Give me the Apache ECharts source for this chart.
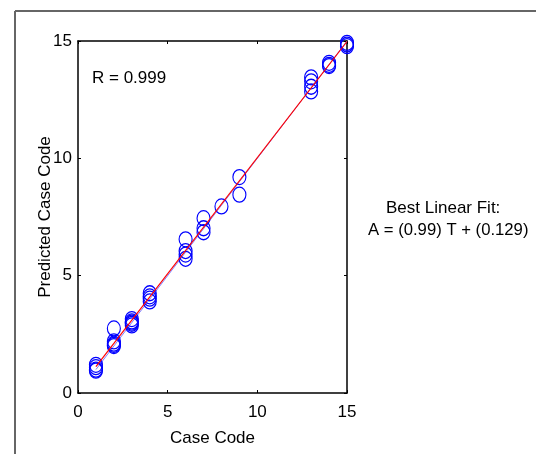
<!DOCTYPE html>
<html>
<head>
<meta charset="utf-8">
<script src="https://cdn.jsdelivr.net/npm/echarts@6/dist/echarts.min.js"></script>
<style>html,body{margin:0;padding:0;background:#fff;}#c{width:536px;height:454px;}</style>
</head>
<body>
<div id="c"></div>
<script>
// Data
var targets = [1,1,1,1, 2,2,2,2,2, 3,3,3,3,3, 4,4,4,4, 6,6,6,6, 7,7,7, 8, 9,9, 13,13,13,13, 14,14,14, 15,15,15];
var outputs = [1.2,1.1,1.0,0.95, 2.75,2.2,2.1,2.05,2.0, 3.15,3.05,3.0,2.95,2.88, 4.25,4.12,4.02,3.9, 6.55,6.05,5.9,5.72, 7.45,7.02,6.85, 7.95, 9.2,8.45, 13.45,13.28,13.05,12.85, 14.07,13.98,13.93, 14.92,14.85,14.78];
var fitSlope = 0.99;
var fitIntercept = 0.129;
var fitRange = [1, 15];
var xTicks = [0, 5, 10, 15];
var yTicks = [0, 5, 10, 15];
var rText = 'R = 0.999';
var fitLabel = ['Best Linear Fit:', 'A = (0.99) T + (0.129)'];

var scatterData = targets.map(function(t, i){ return [t, outputs[i]]; });
var fitLine = fitRange.map(function(t){ return [t, fitSlope * t + fitIntercept]; });
var identLine = fitRange.map(function(t){ return [t, t]; });

var font = 'Liberation Sans, Arial, sans-serif';
var chart = echarts.init(document.getElementById('c'));
var axisCommon = {
  type: 'value', min: xTicks[0], max: xTicks[xTicks.length - 1], interval: 5,
  splitLine: {show: false},
  axisLine: {show: true, onZero: false, lineStyle: {color: '#000', width: 1.5}},
  axisTick: {show: true, inside: true, length: 3, lineStyle: {color: '#000'}}
};
chart.setOption({
  animation: false,
  backgroundColor: '#fff',
  grid: {left: 78, top: 41, width: 269, height: 352},
  xAxis: [
    Object.assign({}, axisCommon, {
      position: 'bottom', name: 'Case Code', nameLocation: 'middle', nameGap: 37,
      nameTextStyle: {fontFamily: font, fontSize: 17, color: '#000'},
      axisLabel: {fontFamily: font, fontSize: 17, color: '#000', margin: 11}
    }),
    Object.assign({}, axisCommon, {position: 'top', axisLabel: {show: false}})
  ],
  yAxis: [
    Object.assign({}, axisCommon, {
      min: yTicks[0], max: yTicks[yTicks.length - 1],
      position: 'left', name: 'Predicted Case Code', nameLocation: 'middle', nameGap: 24,
      nameMoveOverlap: false,
      nameTextStyle: {fontFamily: font, fontSize: 17, color: '#000'},
      axisLabel: {fontFamily: font, fontSize: 17, color: '#000', margin: 6}
    }),
    Object.assign({}, axisCommon, {position: 'right', axisLabel: {show: false}})
  ],
  series: [
    {
      type: 'line', data: identLine, symbol: 'none', silent: true,
      lineStyle: {color: '#8080ff', width: 1}, z: 2
    },
    {
      type: 'scatter', data: scatterData, symbol: 'circle', symbolSize: [13, 15],
      itemStyle: {color: 'rgba(0,0,0,0)', borderColor: '#0000ff', borderWidth: 1.2, opacity: 1}, z: 3
    },
    {
      type: 'line', data: fitLine, symbol: 'none', silent: true,
      lineStyle: {color: '#ff0000', width: 1.2}, z: 4
    }
  ],
  graphic: [
    {type: 'line', shape: {x1: 15, y1: 11, x2: 536, y2: 11}, style: {stroke: '#666', lineWidth: 2}},
    {type: 'line', shape: {x1: 15, y1: 11, x2: 15, y2: 454}, style: {stroke: '#666', lineWidth: 2}},
    {type: 'text', left: 92, top: 70, style: {text: rText, fontFamily: font, fontSize: 17, fill: '#000'}},
    {type: 'text', left: 386, top: 200, style: {text: fitLabel[0], fontFamily: font, fontSize: 17, fill: '#000'}},
    {type: 'text', left: 368, top: 222, style: {text: fitLabel[1], fontFamily: font, fontSize: 16.7, fill: '#000'}}
  ]
});
</script>
</body>
</html>
